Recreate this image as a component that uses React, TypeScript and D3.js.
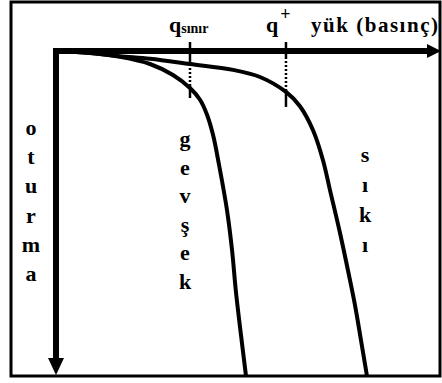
import React from "react";
import * as d3 from "d3";

// load (kPa-like units) vs settlement (mm-like units)
const looseLoad = [0, 44.7, 84.2, 123.7, 153.9, 176.3, 189.5, 198.7, 206.6, 214.5, 225, 231.6, 236.8, 243.4, 250];
const looseSettle = [0, 0.3, 0.9, 2.0, 3.7, 5.7, 7.5, 9.8, 12.9, 17.5, 24.5, 30.6, 37.1, 43.7, 50];
const denseLoad = [0, 44.7, 84.2, 123.7, 176.3, 232.9, 268.4, 302.6, 321, 338.2, 351.3, 360.5, 373.7, 385.5, 393.4, 401.3, 409.2];
const denseSettle = [0, 0.3, 0.8, 1.2, 2.0, 2.9, 4.0, 6.3, 8.5, 12.2, 16.8, 21.4, 28, 34.5, 39.1, 44.5, 50];
const qLimit = 176.3;
const qPlus = 302.6;
const qLimitDense = 2.0;
const qLimitLoose = 5.7;
const qPlusDense = 6.3;
const xTitle = "yük (basınç)";
const yTitle = ["o", "t", "u", "r", "m", "a"];
const looseLabel = ["g", "e", "v", "ş", "e", "k"];
const denseLabel = ["s", "ı", "k", "ı"];

const W = 442;
const H = 383;
const FONT = "'Liberation Serif', 'Times New Roman', serif";

export default function App() {
  const x = d3.scaleLinear().domain([0, 500]).range([56, 436]);
  const y = d3.scaleLinear().domain([0, 50]).range([51, 376]);
  const line = d3
    .line<[number, number]>()
    .x((d) => x(d[0]))
    .y((d) => y(d[1]))
    .curve(d3.curveCatmullRom.alpha(0.5));
  const loose = line(looseLoad.map((l, i) => [l, looseSettle[i]] as [number, number])) || "";
  const dense = line(denseLoad.map((l, i) => [l, denseSettle[i]] as [number, number])) || "";

  const x0 = x(0);
  const y0 = y(0);
  const xEnd = x.range()[1];
  const yEnd = y.range()[1];
  const qlx = x(qLimit);
  const qpx = x(qPlus);

  return (
    <svg width={W} height={H} style={{ position: "absolute", left: 0, top: 0, background: "#fff" }} fontFamily={FONT}>
      <rect x={0} y={0} width={W} height={H} fill="#fff" />
      {/* frame */}
      <rect x={11} y={2} width={429} height={374} fill="none" stroke="#000" strokeWidth={3} />
      {/* axes */}
      <path d={`M${x0},${yEnd - 16} L${x0},${y0} L${xEnd - 8},${y0}`} fill="none" stroke="#000" strokeWidth={6} strokeLinejoin="miter" />
      <polygon points={`${xEnd - 9},${y0 - 7} ${xEnd + 5},${y0} ${xEnd - 9},${y0 + 7}`} fill="#000" />
      <polygon points={`${x0 - 8},${yEnd - 18} ${x0 + 8},${yEnd - 18} ${x0},${yEnd - 1}`} fill="#000" />
      {/* q markers */}
      <line x1={qlx} x2={qlx} y1={y0 - 9} y2={y(qLimitDense)} stroke="#000" strokeWidth={2.5} />
      <line x1={qlx} x2={qlx} y1={y(qLimitDense)} y2={y(qLimitLoose) - 3} stroke="#000" strokeWidth={2.5} strokeDasharray="2,2" />
      <line x1={qlx} x2={qlx} y1={y(qLimitLoose) - 3} y2={y(qLimitLoose) + 10} stroke="#000" strokeWidth={2.5} />
      <line x1={qpx} x2={qpx} y1={y0 - 9} y2={y0 + 6} stroke="#000" strokeWidth={2.5} />
      <line x1={qpx} x2={qpx} y1={y0 + 6} y2={y(qPlusDense) - 3} stroke="#000" strokeWidth={2.5} strokeDasharray="2,2" />
      <line x1={qpx} x2={qpx} y1={y(qPlusDense) - 3} y2={y(qPlusDense) + 15} stroke="#000" strokeWidth={2.5} />
      {/* curves */}
      <path d={dense} fill="none" stroke="#000" strokeWidth={4} />
      <path d={loose} fill="none" stroke="#000" strokeWidth={4} />
      {/* top labels */}
      <text x={qlx - 21} y={32} fontSize={22} fontWeight="bold">
        q<tspan fontSize={14} dy={1}>sınır</tspan>
      </text>
      <text x={qpx - 20} y={32} fontSize={22} fontWeight="bold">
        q<tspan fontSize={18} dx={2} dy={-12}>+</tspan>
      </text>
      <text x={311} y={32} fontSize={21} fontWeight="bold" textLength={127} lengthAdjust="spacing">
        {xTitle}
      </text>
      {/* vertical labels */}
      {yTitle.map((c, i) => (
        <text key={"y" + i} x={31} y={135 + i * 29.2} fontSize={22} fontWeight="bold" textAnchor="middle">
          {c}
        </text>
      ))}
      {looseLabel.map((c, i) => (
        <text key={"l" + i} x={185} y={146 + i * 28.6} fontSize={22} fontWeight="bold" textAnchor="middle">
          {c}
        </text>
      ))}
      {denseLabel.map((c, i) => (
        <text key={"d" + i} x={365} y={162 + i * 30} fontSize={22} fontWeight="bold" textAnchor="middle">
          {c}
        </text>
      ))}
    </svg>
  );
}
